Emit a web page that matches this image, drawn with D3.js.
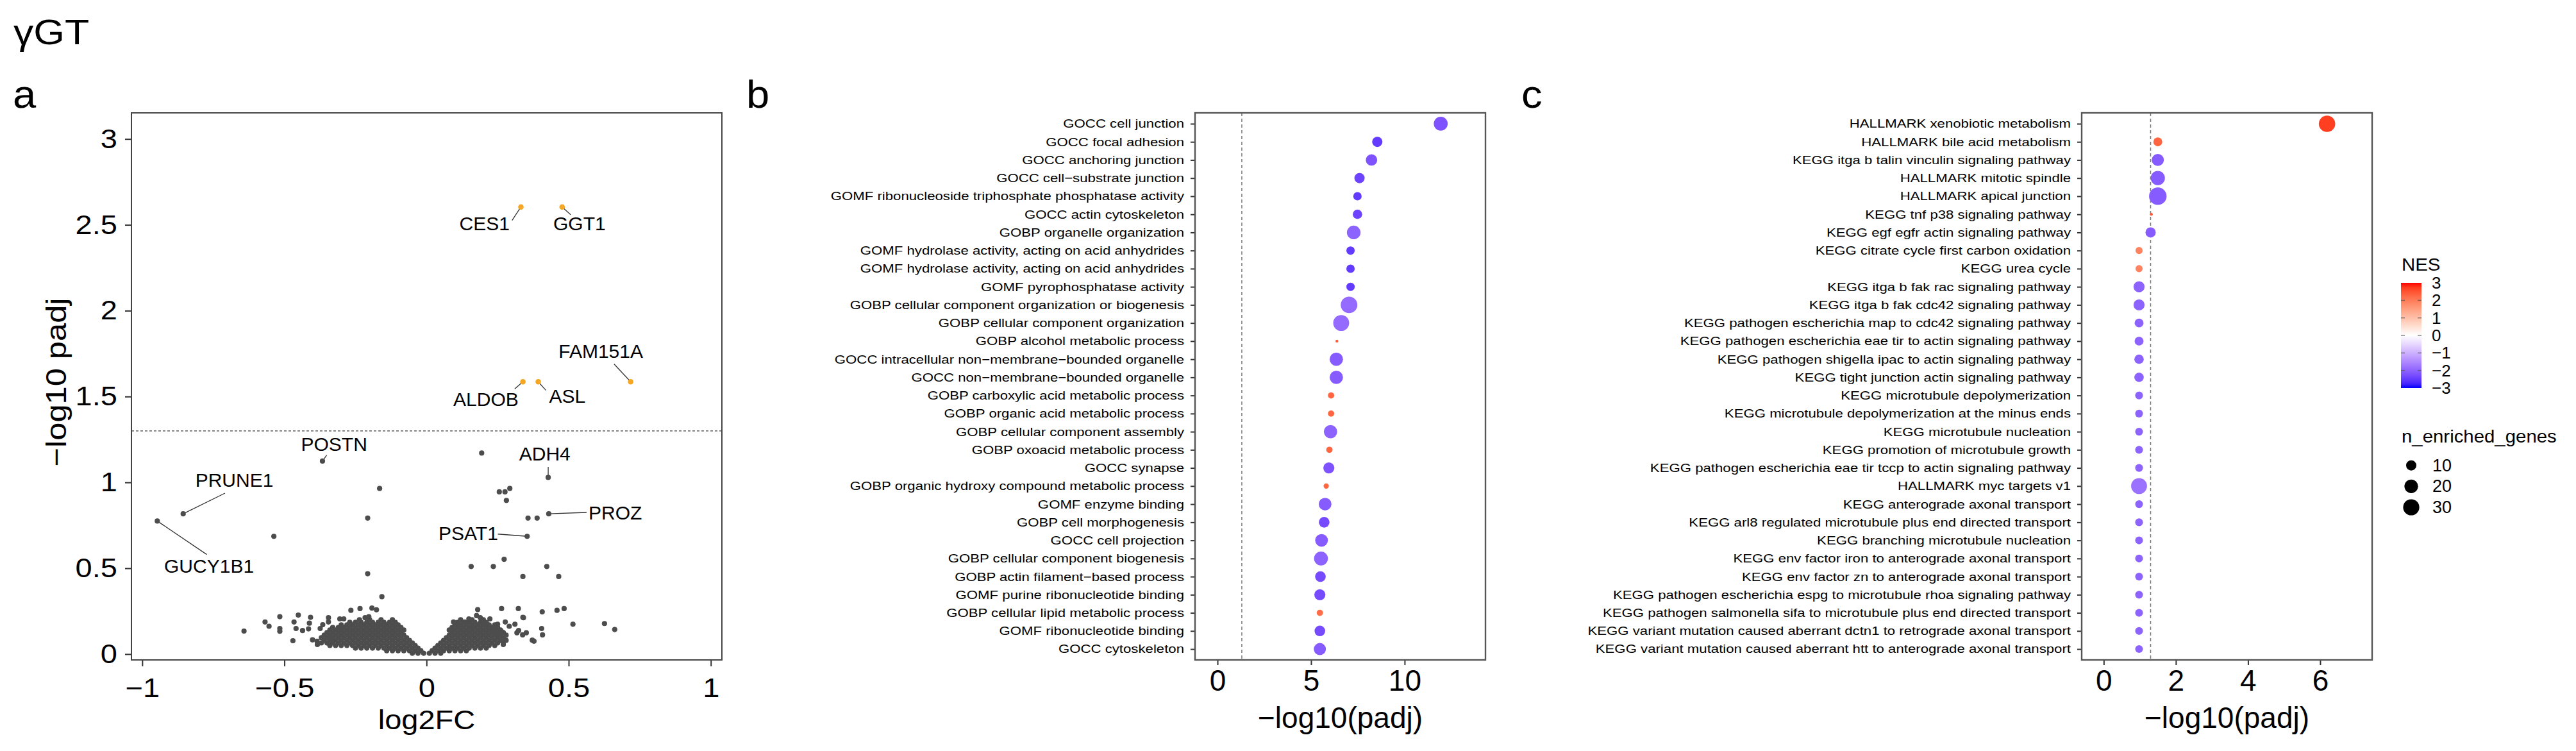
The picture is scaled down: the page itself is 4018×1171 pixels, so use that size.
<!DOCTYPE html>
<html>
<head>
<meta charset="utf-8">
<script src="https://cdn.jsdelivr.net/npm/d3@7"></script>
<style>
  body { margin: 0; background: #fff; }
  svg text { font-family: "Liberation Sans", Arial, Helvetica, sans-serif; fill: #000; }
</style>
</head>
<body>
<svg id="fig" width="4018" height="1171"></svg>
<script>
// ---------- panel a : volcano ----------
const volcXTicks = [-1, -0.5, 0, 0.5, 1];
const volcYTicks = [0, 0.5, 1, 1.5, 2, 2.5, 3];
const padjCut = 1.3;

// significant genes (orange)
const sigGenes = ["CES1", "GGT1", "ALDOB", "ASL", "FAM151A"];
const sigX = [0.332, 0.477, 0.339, 0.393, 0.718];
const sigY = [2.604, 2.604, 1.586, 1.586, 1.586];

// labelled non-significant genes
const labGenes = ["POSTN", "PRUNE1", "GUCY1B1", "ADH4", "PROZ", "PSAT1"];
const labX = [-0.366, -0.856, -0.947, 0.428, 0.430, 0.354];
const labY = [1.124, 0.817, 0.775, 1.029, 0.817, 0.686];

// label text centre and segment end (data units), same order as sigGenes then labGenes
const tagNames = ["CES1", "GGT1", "ALDOB", "ASL", "FAM151A", "POSTN", "PRUNE1", "GUCY1B1", "ADH4", "PROZ", "PSAT1"];
const tagX    = [0.204, 0.538, 0.209, 0.495, 0.613, -0.325, -0.676, -0.765, 0.416, 0.664, 0.147];
const tagY    = [2.506, 2.506, 1.486, 1.502, 1.764, 1.223, 1.012, 0.512, 1.167, 0.825, 0.704];
const segX    = [0.301, 0.507, 0.310, 0.420, 0.660, -0.351, -0.709, -0.773, 0.428, 0.563, 0.251];
const segY    = [2.526, 2.559, 1.544, 1.536, 1.689, 1.159, 0.937, 0.580, 1.090, 0.825, 0.699];

// scattered grey genes
const otherGenes = [
  [0.194,1.171],[-0.165,0.965],[0.256,0.945],[0.276,0.945],[0.293,0.965],[0.281,0.895],
  [-0.207,0.792],[0.357,0.792],[0.389,0.792],[-0.537,0.686],[0.273,0.552],
  [-0.207,0.468],[-0.157,0.334],[0.157,0.51],[0.235,0.51],[0.423,0.51],[0.339,0.452],[0.465,0.452],
  [-0.266,0.255],[-0.234,0.265],[-0.192,0.268],[-0.176,0.258],[0.18,0.259],[0.264,0.265],[0.323,0.265],
  [0.407,0.246],[0.459,0.255],[0.484,0.265],[0.339,0.214],[0.515,0.174],[0.626,0.178],[0.662,0.143],
  [-0.642,0.134],[-0.568,0.187],[-0.554,0.162],[-0.516,0.218],[-0.516,0.149],[-0.516,0.133],[-0.47,0.078],
  [-0.466,0.187],[-0.459,0.149],[-0.451,0.227],[-0.436,0.137],[-0.415,0.147],[-0.412,0.18],[-0.408,0.214],
  [-0.401,0.083],[-0.385,0.075],[-0.384,0.056],[-0.374,0.149],[-0.365,0.171],[-0.345,0.212],[-0.345,0.187],
  [-0.338,0.081],[-0.305,0.205],[-0.3,0.162],[-0.291,0.205],[-0.236,0.2],[-0.216,0.212],[-0.203,0.218],
  [0.095,0.187],[0.115,0.168],[0.135,0.187],[0.149,0.205],[0.162,0.156],[0.176,0.224],[0.189,0.212],
  [0.203,0.18],[0.223,0.205],[0.236,0.149],[0.25,0.174],[0.264,0.131],[0.277,0.187],[0.291,0.162],
  [0.311,0.174],[0.318,0.124],[0.324,0.137],[0.338,0.112],[0.341,0.212],[0.351,0.124],[0.372,0.081],
  [0.378,0.075],[0.405,0.149],[0.408,0.112],[0.264,0.081],[0.27,0.056],[0.243,0.112]
];

// dense cloud near the origin, one row per -log10 padj level
const bulkY = [0.005, 0.02, 0.035, 0.05, 0.065, 0.08, 0.095, 0.11, 0.125, 0.14, 0.155, 0.17, 0.185, 0.2];
const bulkX = [
  [-0.05,-0.03,-0.01,0.01,0.03,0.05],
  [-0.14,-0.12,-0.10,-0.08,-0.06,-0.04,-0.02,0.02,0.04,0.06,0.08,0.10,0.12,0.14],
  [-0.25,-0.23,-0.21,-0.19,-0.17,-0.15,-0.13,-0.11,-0.09,-0.07,-0.05,-0.03,0.03,0.05,0.07,0.09,0.11,0.13,0.15,0.17,0.19,0.21],
  [-0.34,-0.32,-0.30,-0.28,-0.26,-0.24,-0.22,-0.20,-0.18,-0.16,-0.14,-0.12,-0.10,-0.08,-0.06,-0.04,0.04,0.06,0.08,0.10,0.12,0.14,0.16,0.18,0.20,0.22,0.24],
  [-0.37,-0.35,-0.33,-0.31,-0.29,-0.27,-0.25,-0.23,-0.21,-0.19,-0.17,-0.15,-0.13,-0.11,-0.09,-0.07,-0.05,0.05,0.07,0.09,0.11,0.13,0.15,0.17,0.19,0.21,0.23,0.25,0.27],
  [-0.36,-0.34,-0.32,-0.30,-0.28,-0.26,-0.24,-0.22,-0.20,-0.18,-0.16,-0.14,-0.12,-0.10,-0.08,-0.06,0.06,0.08,0.10,0.12,0.14,0.16,0.18,0.20,0.22,0.24,0.26,0.28],
  [-0.37,-0.35,-0.33,-0.31,-0.29,-0.27,-0.25,-0.23,-0.21,-0.19,-0.17,-0.15,-0.13,-0.11,-0.09,-0.07,0.07,0.09,0.11,0.13,0.15,0.17,0.19,0.21,0.23,0.25,0.27],
  [-0.36,-0.34,-0.32,-0.30,-0.28,-0.26,-0.24,-0.22,-0.20,-0.18,-0.16,-0.14,-0.12,-0.10,-0.08,0.08,0.10,0.12,0.14,0.16,0.18,0.20,0.22,0.24,0.26,0.28],
  [-0.35,-0.33,-0.31,-0.29,-0.27,-0.25,-0.23,-0.21,-0.19,-0.17,-0.15,-0.13,-0.11,-0.09,0.09,0.11,0.13,0.15,0.17,0.19,0.21,0.23,0.25,0.27],
  [-0.34,-0.32,-0.30,-0.28,-0.26,-0.24,-0.22,-0.20,-0.18,-0.16,-0.14,-0.12,-0.10,-0.08,0.08,0.10,0.12,0.14,0.16,0.18,0.20,0.22,0.24,0.26],
  [-0.33,-0.31,-0.29,-0.27,-0.25,-0.23,-0.21,-0.19,-0.17,-0.15,-0.13,-0.11,-0.09,0.09,0.11,0.13,0.15,0.17,0.19,0.21,0.23,0.25],
  [-0.30,-0.28,-0.26,-0.24,-0.22,-0.20,-0.18,-0.16,-0.14,-0.12,-0.10,0.10,0.12,0.14,0.16,0.18,0.20,0.22,0.24],
  [-0.27,-0.25,-0.23,-0.21,-0.19,-0.17,-0.15,-0.13,-0.11,0.11,0.13,0.15,0.17,0.19,0.21],
  [-0.20,-0.16,-0.12,0.12,0.16,0.20]
];

// ---------- panel b : GO terms ----------
const goTerms = [
  "GOCC cell junction",
  "GOCC focal adhesion",
  "GOCC anchoring junction",
  "GOCC cell\u2212substrate junction",
  "GOMF ribonucleoside triphosphate phosphatase activity",
  "GOCC actin cytoskeleton",
  "GOBP organelle organization",
  "GOMF hydrolase activity, acting on acid anhydrides",
  "GOMF hydrolase activity, acting on acid anhydrides",
  "GOMF pyrophosphatase activity",
  "GOBP cellular component organization or biogenesis",
  "GOBP cellular component organization",
  "GOBP alcohol metabolic process",
  "GOCC intracellular non\u2212membrane\u2212bounded organelle",
  "GOCC non\u2212membrane\u2212bounded organelle",
  "GOBP carboxylic acid metabolic process",
  "GOBP organic acid metabolic process",
  "GOBP cellular component assembly",
  "GOBP oxoacid metabolic process",
  "GOCC synapse",
  "GOBP organic hydroxy compound metabolic process",
  "GOMF enzyme binding",
  "GOBP cell morphogenesis",
  "GOCC cell projection",
  "GOBP cellular component biogenesis",
  "GOBP actin filament\u2212based process",
  "GOMF purine ribonucleotide binding",
  "GOBP cellular lipid metabolic process",
  "GOMF ribonucleotide binding",
  "GOCC cytoskeleton"
];
const goPadj = [11.93, 8.54, 8.23, 7.59, 7.48, 7.48, 7.28, 7.11, 7.11, 7.11, 7.03, 6.61, 6.38, 6.35, 6.35,
                6.07, 6.07, 6.04, 5.98, 5.95, 5.81, 5.75, 5.70, 5.56, 5.53, 5.50, 5.47, 5.47, 5.47, 5.47];
const goNES = [-2.2, -2.5, -2.2, -2.4, -2.5, -2.4, -2.0, -2.5, -2.5, -2.5, -1.9, -1.9, 2.4, -2.1, -2.1,
               2.3, 2.3, -2.0, 2.3, -2.2, 2.3, -2.1, -2.3, -2.1, -2.0, -2.3, -2.3, 2.2, -2.3, -2.1];
const goN = [21, 10, 13, 10, 6, 8, 20, 6, 6, 6, 32, 29, 1, 19, 19, 3, 3, 19, 3, 12, 2, 17, 11, 17, 21, 11, 12, 3, 11, 15];
const goXTicks = [0, 5, 10];

// ---------- panel c : pathways ----------
const pwTerms = [
  "HALLMARK xenobiotic metabolism",
  "HALLMARK bile acid metabolism",
  "KEGG itga b talin vinculin signaling pathway",
  "HALLMARK mitotic spindle",
  "HALLMARK apical junction",
  "KEGG tnf p38 signaling pathway",
  "KEGG egf egfr actin signaling pathway",
  "KEGG citrate cycle first carbon oxidation",
  "KEGG urea cycle",
  "KEGG itga b fak rac signaling pathway",
  "KEGG itga b fak cdc42 signaling pathway",
  "KEGG pathogen escherichia map to cdc42 signaling pathway",
  "KEGG pathogen escherichia eae tir to actin signaling pathway",
  "KEGG pathogen shigella ipac to actin signaling pathway",
  "KEGG tight junction actin signaling pathway",
  "KEGG microtubule depolymerization",
  "KEGG microtubule depolymerization at the minus ends",
  "KEGG microtubule nucleation",
  "KEGG promotion of microtubule growth",
  "KEGG pathogen escherichia eae tir tccp to actin signaling pathway",
  "HALLMARK myc targets v1",
  "KEGG anterograde axonal transport",
  "KEGG arl8 regulated microtubule plus end directed transport",
  "KEGG branching microtubule nucleation",
  "KEGG env factor iron to anterograde axonal transport",
  "KEGG env factor zn to anterograde axonal transport",
  "KEGG pathogen escherichia espg to microtubule rhoa signaling pathway",
  "KEGG pathogen salmonella sifa to microtubule plus end directed transport",
  "KEGG variant mutation caused aberrant dctn1 to retrograde axonal transport",
  "KEGG variant mutation caused aberrant htt to anterograde axonal transport"
];
const pwPadj = [6.19, 1.50, 1.50, 1.50, 1.50, 1.32, 1.30, 0.98, 0.98, 0.98, 0.98, 0.98, 0.98, 0.98, 0.98,
                0.98, 0.98, 0.98, 0.98, 0.98, 0.98, 0.98, 0.98, 0.98, 0.98, 0.98, 0.98, 0.98, 0.98, 0.98];
const pwNES = [2.7, 2.3, -2.1, -2.1, -2.1, 2.5, -2.1, 1.9, 1.9, -2.0, -2.0, -2.0, -2.0, -2.0, -2.0,
               -2.0, -2.0, -2.0, -2.0, -2.0, -1.8, -2.0, -2.0, -2.0, -2.0, -2.0, -2.0, -2.0, -2.0, -2.0];
const pwN = [31, 7, 15, 22, 36, 1, 10, 4, 4, 12, 12, 7, 7, 8, 8, 5, 5, 5, 5, 5, 29, 5, 5, 5, 5, 5, 5, 5, 5, 5];
const pwXTicks = [0, 2, 4, 6];

// ---------- legends ----------
const nesTicks = [3, 2, 1, 0, -1, -2, -3];
const sizeBreaks = [10, 20, 30];

// ---------- shared scales ----------
const svg = d3.select('#fig');
const nesColor = d3.scaleLinear().domain([-3, 0, 3]).range(["blue", "white", "red"])
                   .interpolate(d3.interpolateLab).clamp(true);
const rScale = d3.scaleSqrt().domain([0, 35]).range([2.2, 13.64]);   // applied to n - 1
const fmt = d3.format('');

function stext(parent, x, y, txt, size, sx, anchor) {
  return parent.append('text')
      .attr('transform', `translate(${x},${y}) scale(${sx},1)`)
      .attr('text-anchor', anchor || 'start')
      .attr('font-size', size)
      .text(txt);
}

function styleAxis(ax, size, sx, tickW) {
  ax.select('.domain').remove();
  ax.selectAll('.tick line').attr('stroke', '#333').attr('stroke-width', tickW);
  ax.selectAll('.tick text').attr('font-size', size).attr('fill', '#000');
  if (sx !== 1) {
    ax.selectAll('.tick text').each(function() {
      const t = d3.select(this);
      const x = +t.attr('x') || 0;
      t.attr('x', x / sx).attr('transform', `scale(${sx},1)`);
    });
  }
}

// ---------- titles ----------
stext(svg, 21, 69, 'γGT', 56, 1.12);
stext(svg, 20, 168, 'a', 62, 1.05);
stext(svg, 1164, 168, 'b', 62, 1.05);
stext(svg, 2373, 168, 'c', 62, 1.05);

// ---------- panel a ----------
const aBox = {left: 205, right: 1126, top: 176, bottom: 1029};
const xA = d3.scaleLinear().domain([-1.038, 1.039]).range([aBox.left, aBox.right]);
const yA = d3.scaleLinear().domain([-0.034, 3.152]).range([aBox.bottom, aBox.top]);
const gA = svg.append('g');

const axAx = gA.append('g').attr('transform', `translate(0,${aBox.bottom})`)
    .call(d3.axisBottom(xA).tickValues(volcXTicks).tickSize(10).tickPadding(18).tickFormat(fmt));
styleAxis(axAx, 42, 1.12, 2);
const axAy = gA.append('g').attr('transform', `translate(${aBox.left},0)`)
    .call(d3.axisLeft(yA).tickValues(volcYTicks).tickSize(10).tickPadding(12).tickFormat(fmt));
styleAxis(axAy, 42, 1.12, 2);

stext(gA, (aBox.left + aBox.right) / 2, 1137, 'log2FC', 42, 1.12, 'middle');
gA.append('text')
    .attr('transform', `translate(88,596) rotate(-90) scale(1.15,1)`)
    .attr('text-anchor', 'middle')
    .attr('dominant-baseline', 'central')
    .attr('font-size', 44)
    .text('\u2212log10 padj');

gA.append('line')
    .attr('x1', aBox.left).attr('x2', aBox.right)
    .attr('y1', yA(padjCut)).attr('y2', yA(padjCut))
    .attr('stroke', '#777').attr('stroke-width', 1.6).attr('stroke-dasharray', '4,3');

const bulkPts = [];
bulkY.forEach((y, i) => bulkX[i].forEach(x => bulkPts.push([x, y])));
const grey = '#4d4d4d';
gA.append('g').selectAll('circle')
    .data(bulkPts.concat(otherGenes))
    .join('circle')
    .attr('cx', d => xA(d[0])).attr('cy', d => yA(d[1]))
    .attr('r', 4.1).attr('fill', grey);

// repel segments under the points
const ptX = sigX.concat(labX), ptY = sigY.concat(labY);
gA.append('g').selectAll('line')
    .data(tagNames)
    .join('line')
    .attr('x1', (d, i) => xA(ptX[i])).attr('y1', (d, i) => yA(ptY[i]))
    .attr('x2', (d, i) => xA(segX[i])).attr('y2', (d, i) => yA(segY[i]))
    .attr('stroke', '#333').attr('stroke-width', 1.3);

gA.append('g').selectAll('circle')
    .data(labGenes)
    .join('circle')
    .attr('cx', (d, i) => xA(labX[i])).attr('cy', (d, i) => yA(labY[i]))
    .attr('r', 4.1).attr('fill', grey);

gA.append('g').selectAll('circle')
    .data(sigGenes)
    .join('circle')
    .attr('cx', (d, i) => xA(sigX[i])).attr('cy', (d, i) => yA(sigY[i]))
    .attr('r', 4.3).attr('fill', '#F5A623');

gA.append('g').selectAll('text')
    .data(tagNames)
    .join('text')
    .attr('x', (d, i) => xA(tagX[i])).attr('y', (d, i) => yA(tagY[i]))
    .attr('text-anchor', 'middle').attr('dominant-baseline', 'central')
    .attr('font-size', 30)
    .text(d => d);

gA.append('rect')
    .attr('x', aBox.left).attr('y', aBox.top)
    .attr('width', aBox.right - aBox.left).attr('height', aBox.bottom - aBox.top)
    .attr('fill', 'none').attr('stroke', '#444').attr('stroke-width', 2);

// ---------- dot panels b and c ----------
function dotPanel(terms, padj, nes, nn, box, xDomain, xTicks) {
  const g = svg.append('g');
  const x = d3.scaleLinear().domain(xDomain).range([box.left, box.right]);
  const y = d3.scalePoint().domain(d3.range(terms.length)).range([box.top, box.bottom]).padding(0.6);

  const ax = g.append('g').attr('transform', `translate(0,${box.bottom})`)
      .call(d3.axisBottom(x).tickValues(xTicks).tickSize(8).tickPadding(7).tickFormat(fmt));
  styleAxis(ax, 46, 1, 2);
  const ay = g.append('g').attr('transform', `translate(${box.left},0)`)
      .call(d3.axisLeft(y).tickSize(7).tickPadding(10).tickFormat(i => terms[i]));
  styleAxis(ay, 18.5, 1.2, 2);

  g.append('text')
      .attr('x', (box.left + box.right) / 2).attr('y', 1135)
      .attr('text-anchor', 'middle').attr('font-size', 46)
      .text('\u2212log10(padj)');

  g.append('line')
      .attr('x1', x(padjCut)).attr('x2', x(padjCut))
      .attr('y1', box.top).attr('y2', box.bottom)
      .attr('stroke', '#777').attr('stroke-width', 1.5).attr('stroke-dasharray', '5,4');

  g.append('g').selectAll('circle')
      .data(terms)
      .join('circle')
      .attr('cx', (d, i) => x(padj[i]))
      .attr('cy', (d, i) => y(i))
      .attr('r', (d, i) => rScale(nn[i] - 1))
      .attr('fill', (d, i) => nesColor(nes[i]));

  g.append('rect')
      .attr('x', box.left).attr('y', box.top)
      .attr('width', box.right - box.left).attr('height', box.bottom - box.top)
      .attr('fill', 'none').attr('stroke', '#555').attr('stroke-width', 2.4);
}

dotPanel(goTerms, goPadj, goNES, goN, {left: 1864, right: 2317, top: 176, bottom: 1029}, [-1.2, 14.32], goXTicks);
dotPanel(pwTerms, pwPadj, pwNES, pwN, {left: 3247, right: 3700, top: 176, bottom: 1029}, [-0.61, 7.44], pwXTicks);

// ---------- legend ----------
const lg = svg.append('g');
stext(lg, 3746, 422, 'NES', 28, 1.05);

const grad = svg.append('defs').append('linearGradient')
    .attr('id', 'nesGrad').attr('x1', 0).attr('y1', 1).attr('x2', 0).attr('y2', 0);
d3.range(-3, 3.001, 0.25).forEach(v => {
  grad.append('stop').attr('offset', (v + 3) / 6).attr('stop-color', nesColor(v));
});
const barY = d3.scaleLinear().domain([-3, 3]).range([605, 441]);
const bar = {x: 3745, w: 32};
lg.append('rect')
    .attr('x', bar.x).attr('y', barY(3))
    .attr('width', bar.w).attr('height', barY(-3) - barY(3))
    .attr('fill', 'url(#nesGrad)');
lg.selectAll('.cbtick')
    .data(nesTicks.filter(v => Math.abs(v) < 3))
    .join('g').attr('class', 'cbtick')
    .each(function(v) {
      const t = d3.select(this);
      t.append('line').attr('x1', bar.x).attr('x2', bar.x + 6)
          .attr('y1', barY(v)).attr('y2', barY(v)).attr('stroke', '#555').attr('stroke-opacity', 0.7).attr('stroke-width', 1.5);
      t.append('line').attr('x1', bar.x + bar.w - 6).attr('x2', bar.x + bar.w)
          .attr('y1', barY(v)).attr('y2', barY(v)).attr('stroke', '#555').attr('stroke-opacity', 0.7).attr('stroke-width', 1.5);
    });
lg.selectAll('.cblab')
    .data(nesTicks)
    .join('text').attr('class', 'cblab')
    .attr('x', 3793).attr('y', v => barY(v))
    .attr('dominant-baseline', 'central')
    .attr('font-size', 26)
    .text(v => d3.format('d')(v));

stext(lg, 3746, 690, 'n_enriched_genes', 28, 1.05);
const keyY = d3.scalePoint().domain(sizeBreaks).range([725.7, 791]);
lg.selectAll('.skey')
    .data(sizeBreaks)
    .join('circle').attr('class', 'skey')
    .attr('cx', 3761).attr('cy', d => keyY(d))
    .attr('r', d => rScale(d - 1)).attr('fill', '#000');
lg.selectAll('.slab')
    .data(sizeBreaks)
    .join('text').attr('class', 'slab')
    .attr('x', 3794).attr('y', d => keyY(d))
    .attr('dominant-baseline', 'central')
    .attr('font-size', 27)
    .text(d => d);
</script>
</body>
</html>
